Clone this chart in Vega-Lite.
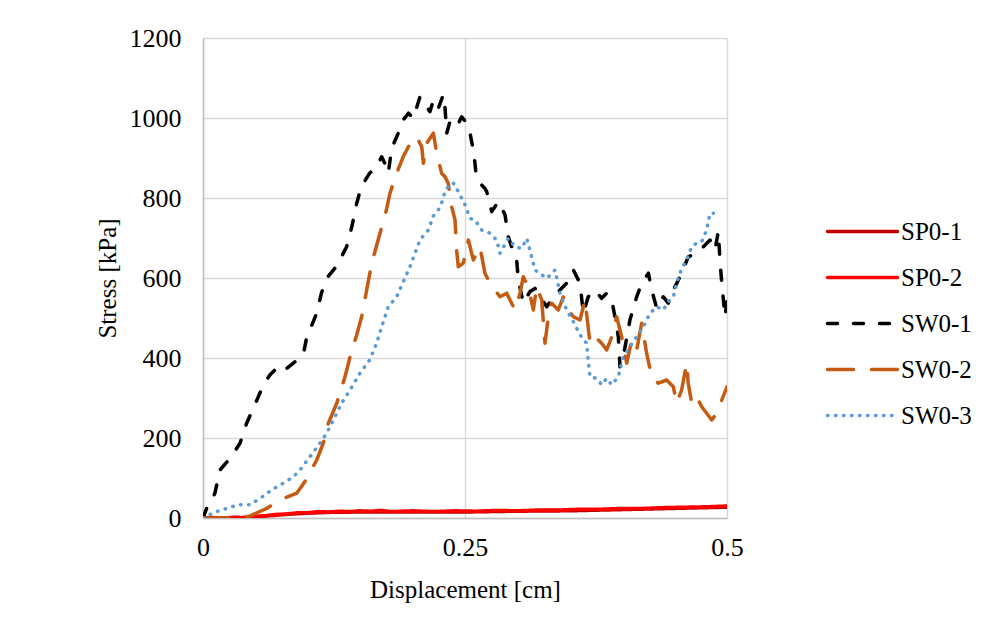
{
  "$schema": "https://vega.github.io/schema/vega-lite/v6.json",
  "width": 524,
  "height": 480,
  "autosize": {"type": "none"},
  "padding": {"left": 203, "top": 38, "right": 270, "bottom": 122},
  "background": "white",
  "config": {
    "font": "Liberation Serif",
    "view": {"stroke": null},
    "axis": {
      "labelFont": "Liberation Serif",
      "titleFont": "Liberation Serif",
      "labelFontSize": 26,
      "titleFontSize": 25,
      "labelColor": "#000000",
      "titleColor": "#000000",
      "titleFontWeight": "normal",
      "gridColor": "#D9D9D9",
      "gridWidth": 1.5,
      "domainColor": "#BFBFBF",
      "domainWidth": 1.5,
      "ticks": false,
      "labelFlush": false
    },
    "legend": {
      "labelFont": "Liberation Serif",
      "labelFontSize": 25,
      "labelColor": "#000000"
    }
  },
  "data": {
    "values": [
      {"s": "SP0-1", "x": 0, "y": 0}, {"s": "SP0-1", "x": 0.02, "y": 0}, {"s": "SP0-1", "x": 0.04, "y": 1}, {"s": "SP0-1", "x": 0.06, "y": 5}, {"s": "SP0-1", "x": 0.08, "y": 9}, {"s": "SP0-1", "x": 0.1, "y": 12}, {"s": "SP0-1", "x": 0.12, "y": 14}, {"s": "SP0-1", "x": 0.15, "y": 15}, {"s": "SP0-1", "x": 0.2, "y": 15}, {"s": "SP0-1", "x": 0.25, "y": 15}, {"s": "SP0-1", "x": 0.3, "y": 17}, {"s": "SP0-1", "x": 0.35, "y": 18}, {"s": "SP0-1", "x": 0.4, "y": 21}, {"s": "SP0-1", "x": 0.45, "y": 24}, {"s": "SP0-1", "x": 0.5, "y": 27},

      {"s": "SP0-2", "x": 0, "y": 0}, {"s": "SP0-2", "x": 0.01, "y": 1}, {"s": "SP0-2", "x": 0.02, "y": 0}, {"s": "SP0-2", "x": 0.03, "y": 2}, {"s": "SP0-2", "x": 0.04, "y": 1}, {"s": "SP0-2", "x": 0.05, "y": 4}, {"s": "SP0-2", "x": 0.06, "y": 6}, {"s": "SP0-2", "x": 0.07, "y": 9}, {"s": "SP0-2", "x": 0.08, "y": 10}, {"s": "SP0-2", "x": 0.09, "y": 13}, {"s": "SP0-2", "x": 0.1, "y": 13}, {"s": "SP0-2", "x": 0.11, "y": 16}, {"s": "SP0-2", "x": 0.12, "y": 15}, {"s": "SP0-2", "x": 0.13, "y": 17}, {"s": "SP0-2", "x": 0.14, "y": 16}, {"s": "SP0-2", "x": 0.15, "y": 18}, {"s": "SP0-2", "x": 0.16, "y": 17}, {"s": "SP0-2", "x": 0.17, "y": 19}, {"s": "SP0-2", "x": 0.18, "y": 16}, {"s": "SP0-2", "x": 0.2, "y": 18}, {"s": "SP0-2", "x": 0.22, "y": 16}, {"s": "SP0-2", "x": 0.24, "y": 18}, {"s": "SP0-2", "x": 0.26, "y": 17}, {"s": "SP0-2", "x": 0.28, "y": 19}, {"s": "SP0-2", "x": 0.3, "y": 18}, {"s": "SP0-2", "x": 0.32, "y": 20}, {"s": "SP0-2", "x": 0.34, "y": 20}, {"s": "SP0-2", "x": 0.36, "y": 22}, {"s": "SP0-2", "x": 0.38, "y": 22}, {"s": "SP0-2", "x": 0.4, "y": 24}, {"s": "SP0-2", "x": 0.42, "y": 24}, {"s": "SP0-2", "x": 0.44, "y": 26}, {"s": "SP0-2", "x": 0.46, "y": 27}, {"s": "SP0-2", "x": 0.48, "y": 28}, {"s": "SP0-2", "x": 0.5, "y": 30},

      {"s": "SW0-1", "x": 0, "y": 0}, {"s": "SW0-1", "x": 0.0035, "y": 24}, {"s": "SW0-1", "x": 0.0114, "y": 62}, {"s": "SW0-1", "x": 0.0162, "y": 120}, {"s": "SW0-1", "x": 0.0258, "y": 149}, {"s": "SW0-1", "x": 0.0353, "y": 187}, {"s": "SW0-1", "x": 0.0417, "y": 237}, {"s": "SW0-1", "x": 0.0465, "y": 266}, {"s": "SW0-1", "x": 0.0528, "y": 303}, {"s": "SW0-1", "x": 0.0576, "y": 333}, {"s": "SW0-1", "x": 0.064, "y": 358}, {"s": "SW0-1", "x": 0.0735, "y": 383}, {"s": "SW0-1", "x": 0.0799, "y": 374}, {"s": "SW0-1", "x": 0.0862, "y": 387}, {"s": "SW0-1", "x": 0.0957, "y": 408}, {"s": "SW0-1", "x": 0.099, "y": 453}, {"s": "SW0-1", "x": 0.102, "y": 470}, {"s": "SW0-1", "x": 0.1085, "y": 512}, {"s": "SW0-1", "x": 0.113, "y": 562}, {"s": "SW0-1", "x": 0.118, "y": 599}, {"s": "SW0-1", "x": 0.1276, "y": 630}, {"s": "SW0-1", "x": 0.137, "y": 678}, {"s": "SW0-1", "x": 0.142, "y": 728}, {"s": "SW0-1", "x": 0.1467, "y": 787}, {"s": "SW0-1", "x": 0.151, "y": 828}, {"s": "SW0-1", "x": 0.159, "y": 862}, {"s": "SW0-1", "x": 0.1655, "y": 878}, {"s": "SW0-1", "x": 0.1705, "y": 903}, {"s": "SW0-1", "x": 0.175, "y": 878}, {"s": "SW0-1", "x": 0.1768, "y": 862}, {"s": "SW0-1", "x": 0.18, "y": 924}, {"s": "SW0-1", "x": 0.1863, "y": 962}, {"s": "SW0-1", "x": 0.191, "y": 995}, {"s": "SW0-1", "x": 0.196, "y": 1012}, {"s": "SW0-1", "x": 0.2007, "y": 999}, {"s": "SW0-1", "x": 0.207, "y": 1053}, {"s": "SW0-1", "x": 0.2118, "y": 1033}, {"s": "SW0-1", "x": 0.2166, "y": 1016}, {"s": "SW0-1", "x": 0.2198, "y": 1045}, {"s": "SW0-1", "x": 0.2245, "y": 1024}, {"s": "SW0-1", "x": 0.2293, "y": 1058}, {"s": "SW0-1", "x": 0.2309, "y": 1028}, {"s": "SW0-1", "x": 0.2325, "y": 962}, {"s": "SW0-1", "x": 0.2357, "y": 991}, {"s": "SW0-1", "x": 0.242, "y": 978}, {"s": "SW0-1", "x": 0.2468, "y": 1003}, {"s": "SW0-1", "x": 0.2516, "y": 987}, {"s": "SW0-1", "x": 0.2548, "y": 962}, {"s": "SW0-1", "x": 0.2573, "y": 928}, {"s": "SW0-1", "x": 0.2595, "y": 887}, {"s": "SW0-1", "x": 0.2605, "y": 862}, {"s": "SW0-1", "x": 0.2643, "y": 837}, {"s": "SW0-1", "x": 0.269, "y": 824}, {"s": "SW0-1", "x": 0.2707, "y": 816}, {"s": "SW0-1", "x": 0.2755, "y": 766}, {"s": "SW0-1", "x": 0.2818, "y": 791}, {"s": "SW0-1", "x": 0.2882, "y": 758}, {"s": "SW0-1", "x": 0.2913, "y": 703}, {"s": "SW0-1", "x": 0.2945, "y": 678}, {"s": "SW0-1", "x": 0.2993, "y": 645}, {"s": "SW0-1", "x": 0.3009, "y": 595}, {"s": "SW0-1", "x": 0.3056, "y": 537}, {"s": "SW0-1", "x": 0.312, "y": 566}, {"s": "SW0-1", "x": 0.3168, "y": 574}, {"s": "SW0-1", "x": 0.3216, "y": 553}, {"s": "SW0-1", "x": 0.328, "y": 528}, {"s": "SW0-1", "x": 0.3343, "y": 553}, {"s": "SW0-1", "x": 0.3406, "y": 570}, {"s": "SW0-1", "x": 0.347, "y": 587}, {"s": "SW0-1", "x": 0.3534, "y": 620}, {"s": "SW0-1", "x": 0.3597, "y": 587}, {"s": "SW0-1", "x": 0.3629, "y": 512}, {"s": "SW0-1", "x": 0.3676, "y": 553}, {"s": "SW0-1", "x": 0.374, "y": 570}, {"s": "SW0-1", "x": 0.3804, "y": 549}, {"s": "SW0-1", "x": 0.3852, "y": 562}, {"s": "SW0-1", "x": 0.39, "y": 545}, {"s": "SW0-1", "x": 0.3931, "y": 503}, {"s": "SW0-1", "x": 0.3963, "y": 453}, {"s": "SW0-1", "x": 0.3979, "y": 378}, {"s": "SW0-1", "x": 0.401, "y": 403}, {"s": "SW0-1", "x": 0.4074, "y": 495}, {"s": "SW0-1", "x": 0.4138, "y": 553}, {"s": "SW0-1", "x": 0.4186, "y": 587}, {"s": "SW0-1", "x": 0.425, "y": 612}, {"s": "SW0-1", "x": 0.4281, "y": 570}, {"s": "SW0-1", "x": 0.433, "y": 524}, {"s": "SW0-1", "x": 0.4392, "y": 553}, {"s": "SW0-1", "x": 0.444, "y": 537}, {"s": "SW0-1", "x": 0.4504, "y": 578}, {"s": "SW0-1", "x": 0.4567, "y": 612}, {"s": "SW0-1", "x": 0.463, "y": 653}, {"s": "SW0-1", "x": 0.471, "y": 662}, {"s": "SW0-1", "x": 0.4774, "y": 678}, {"s": "SW0-1", "x": 0.4838, "y": 695}, {"s": "SW0-1", "x": 0.4885, "y": 670}, {"s": "SW0-1", "x": 0.4917, "y": 716}, {"s": "SW0-1", "x": 0.4933, "y": 645}, {"s": "SW0-1", "x": 0.495, "y": 587}, {"s": "SW0-1", "x": 0.4981, "y": 503}, {"s": "SW0-1", "x": 0.5, "y": 545},

      {"s": "SW0-2", "x": 0, "y": 0}, {"s": "SW0-2", "x": 0.0258, "y": 0}, {"s": "SW0-2", "x": 0.043, "y": 3}, {"s": "SW0-2", "x": 0.0608, "y": 24}, {"s": "SW0-2", "x": 0.0735, "y": 45}, {"s": "SW0-2", "x": 0.0894, "y": 62}, {"s": "SW0-2", "x": 0.0973, "y": 91}, {"s": "SW0-2", "x": 0.1085, "y": 145}, {"s": "SW0-2", "x": 0.1148, "y": 187}, {"s": "SW0-2", "x": 0.1196, "y": 237}, {"s": "SW0-2", "x": 0.1276, "y": 287}, {"s": "SW0-2", "x": 0.1355, "y": 353}, {"s": "SW0-2", "x": 0.1403, "y": 403}, {"s": "SW0-2", "x": 0.1467, "y": 458}, {"s": "SW0-2", "x": 0.1514, "y": 503}, {"s": "SW0-2", "x": 0.1562, "y": 570}, {"s": "SW0-2", "x": 0.161, "y": 637}, {"s": "SW0-2", "x": 0.1689, "y": 712}, {"s": "SW0-2", "x": 0.175, "y": 770}, {"s": "SW0-2", "x": 0.1784, "y": 812}, {"s": "SW0-2", "x": 0.1848, "y": 862}, {"s": "SW0-2", "x": 0.191, "y": 903}, {"s": "SW0-2", "x": 0.1944, "y": 920}, {"s": "SW0-2", "x": 0.2007, "y": 953}, {"s": "SW0-2", "x": 0.2054, "y": 945}, {"s": "SW0-2", "x": 0.2087, "y": 928}, {"s": "SW0-2", "x": 0.2103, "y": 887}, {"s": "SW0-2", "x": 0.2134, "y": 937}, {"s": "SW0-2", "x": 0.2198, "y": 962}, {"s": "SW0-2", "x": 0.223, "y": 912}, {"s": "SW0-2", "x": 0.2277, "y": 862}, {"s": "SW0-2", "x": 0.2309, "y": 853}, {"s": "SW0-2", "x": 0.234, "y": 837}, {"s": "SW0-2", "x": 0.2373, "y": 778}, {"s": "SW0-2", "x": 0.2405, "y": 745}, {"s": "SW0-2", "x": 0.242, "y": 670}, {"s": "SW0-2", "x": 0.2436, "y": 628}, {"s": "SW0-2", "x": 0.2484, "y": 637}, {"s": "SW0-2", "x": 0.2532, "y": 695}, {"s": "SW0-2", "x": 0.258, "y": 645}, {"s": "SW0-2", "x": 0.2643, "y": 678}, {"s": "SW0-2", "x": 0.269, "y": 612}, {"s": "SW0-2", "x": 0.2739, "y": 587}, {"s": "SW0-2", "x": 0.2786, "y": 570}, {"s": "SW0-2", "x": 0.2834, "y": 553}, {"s": "SW0-2", "x": 0.2898, "y": 562}, {"s": "SW0-2", "x": 0.2977, "y": 520}, {"s": "SW0-2", "x": 0.3025, "y": 562}, {"s": "SW0-2", "x": 0.3056, "y": 603}, {"s": "SW0-2", "x": 0.3104, "y": 578}, {"s": "SW0-2", "x": 0.3152, "y": 520}, {"s": "SW0-2", "x": 0.3184, "y": 578}, {"s": "SW0-2", "x": 0.3232, "y": 545}, {"s": "SW0-2", "x": 0.3263, "y": 437}, {"s": "SW0-2", "x": 0.3295, "y": 503}, {"s": "SW0-2", "x": 0.3327, "y": 537}, {"s": "SW0-2", "x": 0.339, "y": 520}, {"s": "SW0-2", "x": 0.3438, "y": 553}, {"s": "SW0-2", "x": 0.3486, "y": 520}, {"s": "SW0-2", "x": 0.3534, "y": 503}, {"s": "SW0-2", "x": 0.3597, "y": 495}, {"s": "SW0-2", "x": 0.3645, "y": 545}, {"s": "SW0-2", "x": 0.3693, "y": 437}, {"s": "SW0-2", "x": 0.374, "y": 453}, {"s": "SW0-2", "x": 0.3804, "y": 437}, {"s": "SW0-2", "x": 0.3852, "y": 420}, {"s": "SW0-2", "x": 0.39, "y": 453}, {"s": "SW0-2", "x": 0.3947, "y": 503}, {"s": "SW0-2", "x": 0.3995, "y": 453}, {"s": "SW0-2", "x": 0.4043, "y": 387}, {"s": "SW0-2", "x": 0.4091, "y": 445}, {"s": "SW0-2", "x": 0.4138, "y": 420}, {"s": "SW0-2", "x": 0.4186, "y": 487}, {"s": "SW0-2", "x": 0.4233, "y": 412}, {"s": "SW0-2", "x": 0.4281, "y": 353}, {"s": "SW0-2", "x": 0.4345, "y": 337}, {"s": "SW0-2", "x": 0.4424, "y": 345}, {"s": "SW0-2", "x": 0.4488, "y": 328}, {"s": "SW0-2", "x": 0.452, "y": 287}, {"s": "SW0-2", "x": 0.4567, "y": 320}, {"s": "SW0-2", "x": 0.4615, "y": 387}, {"s": "SW0-2", "x": 0.463, "y": 337}, {"s": "SW0-2", "x": 0.4663, "y": 287}, {"s": "SW0-2", "x": 0.471, "y": 303}, {"s": "SW0-2", "x": 0.4759, "y": 278}, {"s": "SW0-2", "x": 0.4806, "y": 262}, {"s": "SW0-2", "x": 0.4854, "y": 245}, {"s": "SW0-2", "x": 0.4902, "y": 262}, {"s": "SW0-2", "x": 0.495, "y": 295}, {"s": "SW0-2", "x": 0.5, "y": 328},

      {"s": "SW0-3", "x": 0, "y": 0}, {"s": "SW0-3", "x": 0.002, "y": 3}, {"s": "SW0-3", "x": 0.013, "y": 16}, {"s": "SW0-3", "x": 0.0226, "y": 24}, {"s": "SW0-3", "x": 0.0337, "y": 33}, {"s": "SW0-3", "x": 0.0448, "y": 33}, {"s": "SW0-3", "x": 0.0544, "y": 49}, {"s": "SW0-3", "x": 0.0655, "y": 70}, {"s": "SW0-3", "x": 0.0766, "y": 87}, {"s": "SW0-3", "x": 0.0862, "y": 103}, {"s": "SW0-3", "x": 0.0926, "y": 120}, {"s": "SW0-3", "x": 0.102, "y": 153}, {"s": "SW0-3", "x": 0.1116, "y": 187}, {"s": "SW0-3", "x": 0.118, "y": 212}, {"s": "SW0-3", "x": 0.1244, "y": 245}, {"s": "SW0-3", "x": 0.1323, "y": 287}, {"s": "SW0-3", "x": 0.1403, "y": 320}, {"s": "SW0-3", "x": 0.1498, "y": 362}, {"s": "SW0-3", "x": 0.159, "y": 395}, {"s": "SW0-3", "x": 0.1657, "y": 437}, {"s": "SW0-3", "x": 0.1705, "y": 478}, {"s": "SW0-3", "x": 0.1768, "y": 528}, {"s": "SW0-3", "x": 0.1848, "y": 553}, {"s": "SW0-3", "x": 0.191, "y": 590}, {"s": "SW0-3", "x": 0.1975, "y": 628}, {"s": "SW0-3", "x": 0.207, "y": 695}, {"s": "SW0-3", "x": 0.215, "y": 720}, {"s": "SW0-3", "x": 0.2198, "y": 755}, {"s": "SW0-3", "x": 0.2245, "y": 770}, {"s": "SW0-3", "x": 0.2277, "y": 787}, {"s": "SW0-3", "x": 0.2309, "y": 816}, {"s": "SW0-3", "x": 0.2357, "y": 835}, {"s": "SW0-3", "x": 0.239, "y": 837}, {"s": "SW0-3", "x": 0.2436, "y": 816}, {"s": "SW0-3", "x": 0.25, "y": 783}, {"s": "SW0-3", "x": 0.2548, "y": 749}, {"s": "SW0-3", "x": 0.2595, "y": 745}, {"s": "SW0-3", "x": 0.266, "y": 720}, {"s": "SW0-3", "x": 0.2739, "y": 712}, {"s": "SW0-3", "x": 0.2802, "y": 695}, {"s": "SW0-3", "x": 0.2834, "y": 662}, {"s": "SW0-3", "x": 0.2913, "y": 699}, {"s": "SW0-3", "x": 0.2977, "y": 678}, {"s": "SW0-3", "x": 0.304, "y": 674}, {"s": "SW0-3", "x": 0.3089, "y": 699}, {"s": "SW0-3", "x": 0.3136, "y": 653}, {"s": "SW0-3", "x": 0.3168, "y": 620}, {"s": "SW0-3", "x": 0.3232, "y": 608}, {"s": "SW0-3", "x": 0.328, "y": 599}, {"s": "SW0-3", "x": 0.3359, "y": 620}, {"s": "SW0-3", "x": 0.3406, "y": 562}, {"s": "SW0-3", "x": 0.347, "y": 520}, {"s": "SW0-3", "x": 0.3534, "y": 491}, {"s": "SW0-3", "x": 0.3597, "y": 458}, {"s": "SW0-3", "x": 0.366, "y": 437}, {"s": "SW0-3", "x": 0.3675, "y": 395}, {"s": "SW0-3", "x": 0.3693, "y": 353}, {"s": "SW0-3", "x": 0.3757, "y": 349}, {"s": "SW0-3", "x": 0.3804, "y": 333}, {"s": "SW0-3", "x": 0.3852, "y": 349}, {"s": "SW0-3", "x": 0.39, "y": 333}, {"s": "SW0-3", "x": 0.3963, "y": 353}, {"s": "SW0-3", "x": 0.401, "y": 403}, {"s": "SW0-3", "x": 0.4074, "y": 428}, {"s": "SW0-3", "x": 0.4138, "y": 453}, {"s": "SW0-3", "x": 0.4202, "y": 478}, {"s": "SW0-3", "x": 0.4265, "y": 512}, {"s": "SW0-3", "x": 0.433, "y": 528}, {"s": "SW0-3", "x": 0.4392, "y": 520}, {"s": "SW0-3", "x": 0.444, "y": 541}, {"s": "SW0-3", "x": 0.4488, "y": 553}, {"s": "SW0-3", "x": 0.452, "y": 587}, {"s": "SW0-3", "x": 0.4567, "y": 624}, {"s": "SW0-3", "x": 0.4615, "y": 645}, {"s": "SW0-3", "x": 0.4663, "y": 678}, {"s": "SW0-3", "x": 0.471, "y": 687}, {"s": "SW0-3", "x": 0.4759, "y": 691}, {"s": "SW0-3", "x": 0.4806, "y": 720}, {"s": "SW0-3", "x": 0.4838, "y": 762}, {"s": "SW0-3", "x": 0.487, "y": 762}
    ]
  },
  "mark": {"type": "line", "strokeWidth": 3.5, "strokeCap": "round", "strokeJoin": "round", "clip": true},
  "encoding": {
    "x": {
      "field": "x", "type": "quantitative",
      "scale": {"domain": [0, 0.5], "nice": false},
      "axis": {"values": [0, 0.25, 0.5], "labelExpr": "toString(datum.value)", "title": "Displacement [cm]", "labelPadding": 16, "titlePadding": 17, "grid": true}
    },
    "y": {
      "field": "y", "type": "quantitative",
      "scale": {"domain": [0, 1200], "nice": false},
      "axis": {"values": [0, 200, 400, 600, 800, 1000, 1200], "labelExpr": "toString(datum.value)", "title": "Stress [kPa]", "labelPadding": 22, "titlePadding": 9, "grid": true}
    },
    "color": {
      "field": "s", "type": "nominal",
      "scale": {"domain": ["SP0-1", "SP0-2", "SW0-1", "SW0-2", "SW0-3"], "range": ["#C00000", "#FF0000", "#000000", "#C55A11", "#5B9BD5"]},
      "legend": {
        "title": null,
        "orient": "none",
        "legendX": 647,
        "legendY": 181,
        "symbolType": "M-5,0H5",
        "symbolSize": 196,
        "symbolStrokeWidth": 3.5,
        "rowPadding": 20,
        "labelOffset": 26,
        "encode": {"symbols": {"update": {"strokeCap": {"value": "round"}}}}
      }
    },
    "strokeDash": {
      "field": "s", "type": "nominal",
      "scale": {"domain": ["SP0-1", "SP0-2", "SW0-1", "SW0-2", "SW0-3"], "range": [[1, 0], [1, 0], [10, 16], [26, 18], [0.5, 7.5]]},
      "legend": null
    }
  }
}
